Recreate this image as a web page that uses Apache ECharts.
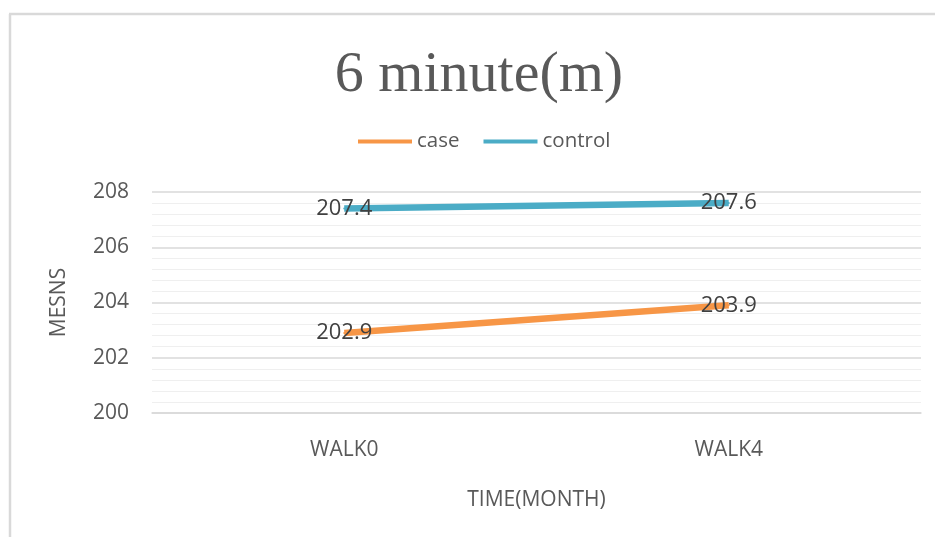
<!DOCTYPE html>
<html>
<head>
<meta charset="utf-8">
<script src="https://cdn.jsdelivr.net/npm/echarts@6/dist/echarts.min.js"></script>
<style>html,body{margin:0;padding:0;background:#fff;}#c{width:935px;height:537px;}</style>
</head>
<body>
<div id="c"></div>
<script>
const categories = ['WALK0', 'WALK4'];
const caseValues = [202.9, 203.9];
const controlValues = [207.4, 207.6];
const seriesNames = ['case', 'control'];
const yMin = 200, yMax = 208, yInterval = 2;

const chart = echarts.init(document.getElementById('c'));
const font = '"Open Sans", sans-serif';
const labelStyle = {
  show: true, position: 'inside', color: '#404040', fontSize: 22, fontFamily: font
};
chart.setOption({
  animation: false,
  backgroundColor: '#fff',
  title: {
    text: '6 minute(m)', left: 474, top: 42, textAlign: 'center',
    textStyle: { fontFamily: '"Liberation Serif", serif', fontSize: 58, fontWeight: 'normal', color: '#595959' }
  },
  legend: {
    data: seriesNames, left: 353, top: 126, icon: 'rect',
    itemWidth: 54, itemHeight: 4, itemGap: 24,
    textStyle: { fontFamily: font, fontSize: 20.5, color: '#595959' }
  },
  grid: { left: 152, right: 14, top: 192, bottom: 124 },
  xAxis: {
    type: 'category', data: categories, boundaryGap: true,
    axisLine: { show: true, lineStyle: { color: '#d9d9d9', width: 1.5 } },
    axisTick: { show: false },
    axisLabel: { color: '#595959', fontFamily: font, fontSize: 21, margin: 27 },
    name: 'TIME(MONTH)', nameLocation: 'middle', nameGap: 77,
    nameTextStyle: { color: '#595959', fontFamily: font, fontSize: 21 }
  },
  yAxis: {
    type: 'value', min: yMin, max: yMax, interval: yInterval,
    axisLine: { show: false }, axisTick: { show: false },
    axisLabel: { color: '#595959', fontFamily: font, fontSize: 21, margin: 23 },
    splitLine: { show: true, lineStyle: { color: '#d9d9d9', width: 1.5 } },
    minorTick: { show: false, splitNumber: 5 },
    minorSplitLine: { show: true, lineStyle: { color: '#efefef', width: 1.2 } },
    name: 'MESNS', nameLocation: 'middle', nameGap: 82, nameRotate: 90,
    nameTextStyle: { color: '#595959', fontFamily: font, fontSize: 21 }
  },
  series: [
    { name: seriesNames[0], type: 'line', data: caseValues, showSymbol: true, symbol: 'circle', symbolSize: 2,
      lineStyle: { color: '#F79646', width: 6.5 }, itemStyle: { color: '#F79646' }, label: labelStyle, z: 2 },
    { name: seriesNames[1], type: 'line', data: controlValues, showSymbol: true, symbol: 'circle', symbolSize: 2,
      lineStyle: { color: '#4BACC6', width: 6.5 }, itemStyle: { color: '#4BACC6' }, label: labelStyle, z: 2 }
  ],
  graphic: [
    { type: 'line', shape: { x1: 9, y1: 14, x2: 935, y2: 14 }, style: { stroke: '#d9d9d9', lineWidth: 2.5 } },
    { type: 'line', shape: { x1: 10, y1: 14, x2: 10, y2: 537 }, style: { stroke: '#d9d9d9', lineWidth: 2.5 } }
  ]
});
</script>
</body>
</html>
